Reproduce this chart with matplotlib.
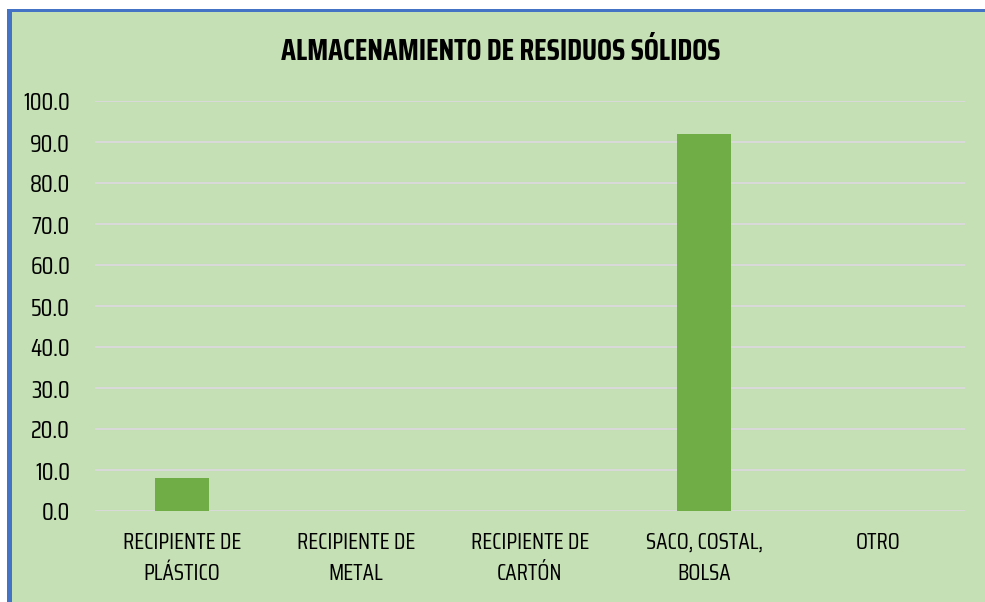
import matplotlib.pyplot as plt
from matplotlib.patches import Rectangle

categories = ['RECIPIENTE DE\nPLÁSTICO', 'RECIPIENTE DE\nMETAL', 'RECIPIENTE DE\nCARTÓN',
              'SACO, COSTAL,\nBOLSA', 'OTRO']
values = [8.1, 0.0, 0.0, 91.9, 0.0]
yticks = [0, 10, 20, 30, 40, 50, 60, 70, 80, 90, 100]
title = 'ALMACENAMIENTO DE RESIDUOS SÓLIDOS'

plt.rcParams['font.family'] = ['Saira Extra Condensed', 'Saira Condensed', 'Teko', 'Oswald',
                               'IBM Plex Sans Condensed', 'DejaVu Sans']

W, H = 985, 602
fig = plt.figure(figsize=(W / 100, H / 100), dpi=100)
fig.patch.set_facecolor('white')

# green chart area with blue frame (left and top)
fig.patches.append(Rectangle((12 / W, 0), 1, 1 - 12 / H, transform=fig.transFigure,
                             facecolor='#c5e0b4', edgecolor='none', zorder=-3))
fig.patches.append(Rectangle((7 / W, 0), 5 / W, 1 - 9 / H, transform=fig.transFigure,
                             facecolor='#4472c4', edgecolor='none', zorder=-2))
fig.patches.append(Rectangle((7 / W, 1 - 12 / H), 1, 3 / H, transform=fig.transFigure,
                             facecolor='#4472c4', edgecolor='none', zorder=-2))

ax = fig.add_axes([95 / W, 1 - 511 / H, 870 / W, 410 / H])
ax.set_facecolor('none')
x = range(len(categories))
ax.bar(x, values, width=0.31, color='#70ad47', zorder=3)

ax.set_xlim(-0.5, len(categories) - 0.5)
ax.set_ylim(0, 100)
ax.set_yticks(yticks)
ax.set_yticklabels([f'{v:.1f}' for v in yticks], fontsize=17.5)
ax.set_xticks(list(x))
ax.set_xticklabels(categories, fontsize=16.5, linespacing=1.6)
ax.tick_params(length=0)
ax.tick_params(axis='y', pad=18)
ax.tick_params(axis='x', pad=15)
ax.grid(axis='y', color='#d9d9d9', linewidth=1.5, zorder=0)
for s in ax.spines.values():
    s.set_visible(False)

fig.text(501 / W, 1 - 51 / H, title, ha='center', va='center',
         fontsize=21.5, fontweight='bold')

fig.savefig('out.png', dpi=100)
